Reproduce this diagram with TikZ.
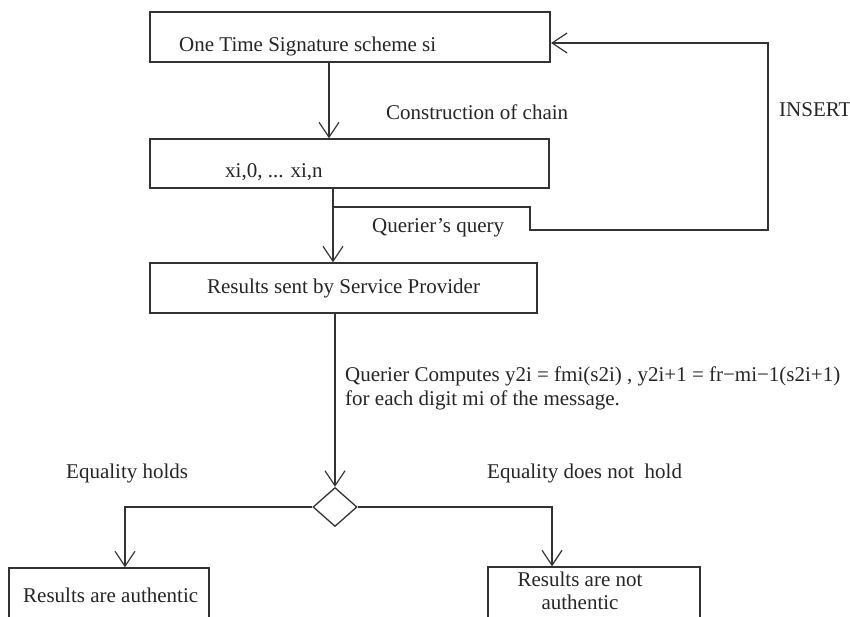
\documentclass[tikz,border=0pt]{standalone}
\usepackage{fontspec}
\setmainfont{Liberation Serif}
\usetikzlibrary{arrows.meta,shapes.geometric}
\begin{document}
\begin{tikzpicture}[x=1pt,y=-1pt,
  every node/.style={font=\fontsize{21}{24}\selectfont, text=black!85},
  box/.style={draw=black!80, line width=1.3pt, rectangle, inner sep=0pt},
  dec/.style={draw=black!80, line width=1.3pt, diamond, inner sep=0pt, minimum width=44pt, minimum height=39pt},
  ln/.style={draw=black!80, line width=1.3pt},
  arr/.style={ln, -{Straight Barb[length=15pt,width=20pt,line width=1.2pt]}},
  lbl/.style={anchor=west, inner sep=0pt}
]
\clip (0,0) rectangle (850,616);
\fill[white] (0,0) rectangle (850,616);

% boxes
\node[box, minimum width=400pt, minimum height=50pt] (b1) at (350,37) {};
\node[box, minimum width=399pt, minimum height=49pt] (b2) at (349.5,163.5) {};
\node[box, minimum width=387pt, minimum height=50pt] (b3) at (343.5,288) {Results sent by Service Provider};
\node[dec] (d) at (335,507) {};
\node[box, minimum width=200pt, minimum height=80pt] (b4) at (109,608) {};
\node[box, minimum width=212pt, minimum height=80pt] (b5) at (594,607) {};

% texts
\node[lbl] (t1) at (179,46) {One Time Signature scheme si};
\node[lbl] (t2) at (225,172) {xi,0, ... xi,n};
\node[lbl] (t4) at (23,595) {Results are authentic};
\node[align=center, inner sep=0pt, font=\fontsize{21}{23}\selectfont] (t5) at (580,591) {Results are not\\authentic};

\node[lbl] (c1) at (386,112) {Construction of chain};
\node[lbl] (c2) at (372,228) {Querier’s query};
\node[lbl] (c3) at (779,110) {INSERT};
\node[anchor=base west, inner sep=0pt] (q1) at (345,381) {Querier Computes y2i = fmi(s2i) , y2i+1 = fr−mi−1(s2i+1)};
\node[anchor=base west, inner sep=0pt] (q2) at (345,405) {for each digit mi of the message.};
\node[lbl] (e1) at (66,473) {Equality holds};
\node[lbl] (e2) at (487,473) {Equality does not\ \ hold};

% helper coordinates
\coordinate (a1) at (329,0);
\coordinate (a2) at (333,0);
\coordinate (a3) at (335,0);
\coordinate (j1) at (333,207);
\coordinate (k1) at (530,207);
\coordinate (k2) at (530,230);
\coordinate (k3) at (768,230);
\coordinate (k4) at (768,43);
\coordinate (k5) at (551,43);
\coordinate (l1) at (125,0);
\coordinate (r1) at (552,0);

% connectors
\draw[arr] (b1.south -| a1) -- (b2.north -| a1);
\draw[arr] (b2.south -| a2) -- (b3.north -| a2);
\draw[arr] (j1) -- (k1) -- (k2) -- (k3) -- (k4) -- (k5);
\draw[arr] (b3.south -| a3) -- (d.north);
\draw[arr] (d.west) -| (b4.north -| l1);
\draw[arr] (d.east) -| (b5.north -| r1);
\end{tikzpicture}
\end{document}
